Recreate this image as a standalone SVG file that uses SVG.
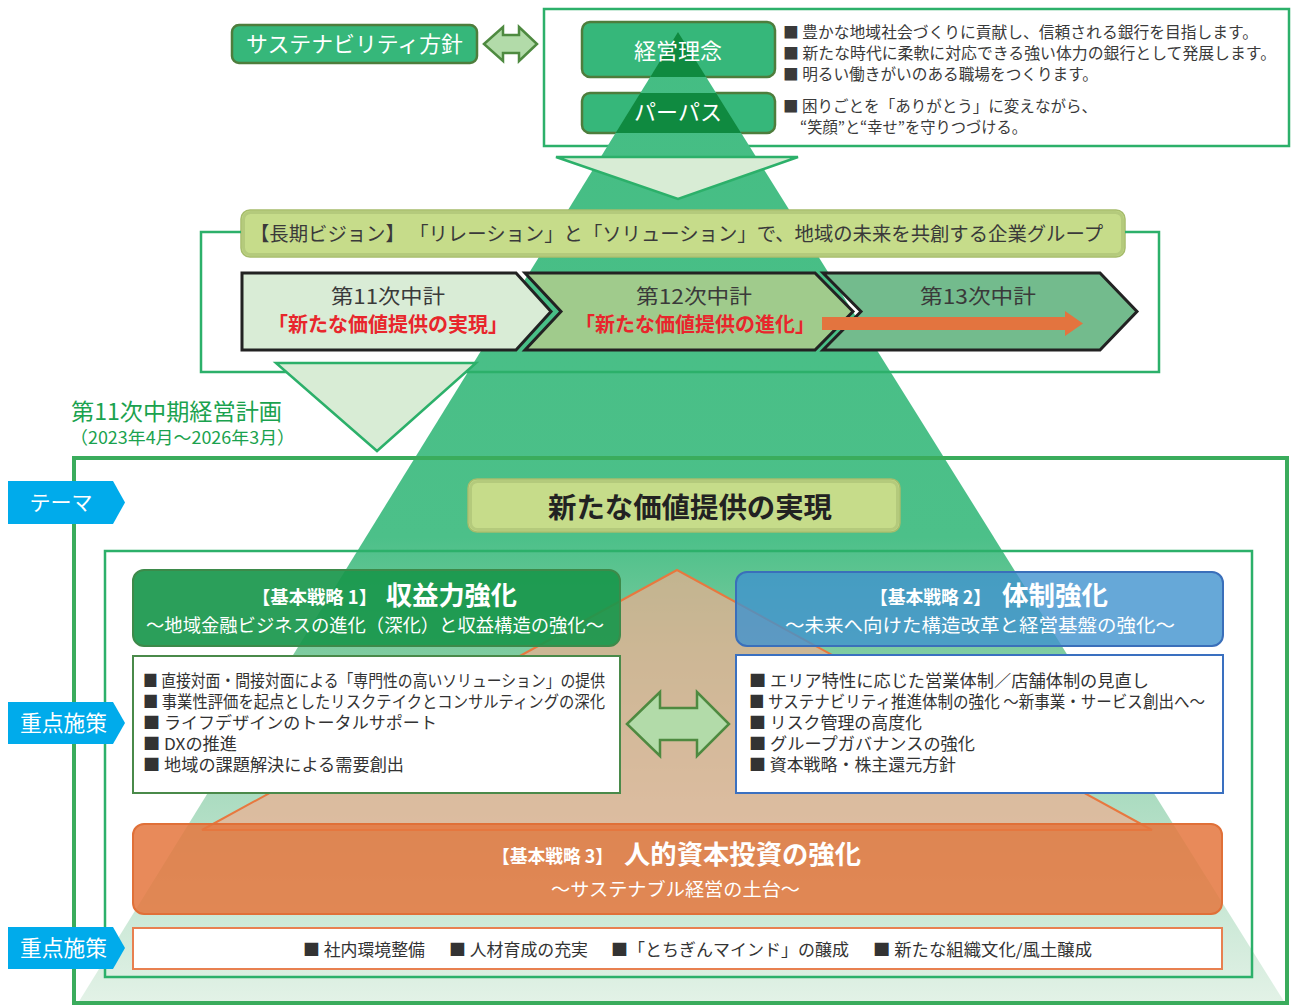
<svg xmlns="http://www.w3.org/2000/svg" width="1292" height="1006" viewBox="0 0 1292 1006">
<defs>
<style>
text{font-family:"Noto Sans CJK JP","Noto Sans",sans-serif;}
.t{fill:#3a3a3a;}
.w{fill:#ffffff;}
.b{font-weight:700;}
.gbox{fill:#36b77a;stroke:#4e7d3c;stroke-width:2.5;}
.frame{fill:none;stroke:#2cb06a;stroke-width:2.5;}
.down{fill:#d8ecd5;stroke:#2cb06a;stroke-width:2.5;}
.chev{stroke:#222222;stroke-width:3;}
.red{fill:#e8262c;font-weight:700;}
.dbl{fill:#b2dba9;stroke:#4e8a40;stroke-width:2.5;}
.tag{fill:#00abeb;}
.bar{fill:#c6dc8a;stroke:#a6bc6c;stroke-width:1.5;}
.barin{fill:none;stroke:#b4ca7c;stroke-width:3;}
.list{fill:#ffffff;stroke-width:2;}
.lt{font-size:16.5px;fill:#333333;}
</style>
<linearGradient id="pyr" gradientUnits="userSpaceOnUse" x1="0" y1="32" x2="0" y2="1003">
<stop offset="0" stop-color="#44bd83"/>
<stop offset="0.52" stop-color="#4cc089"/>
<stop offset="0.63" stop-color="#7ccb9f"/>
<stop offset="0.79" stop-color="#acdcc1"/>
<stop offset="1" stop-color="#e3f2e7"/>
</linearGradient>
<clipPath id="topboxes">
<rect x="582" y="22" width="193" height="55" rx="8"/>
<rect x="582" y="93" width="193" height="40" rx="8"/>
</clipPath>
</defs>

<rect x="0" y="0" width="1292" height="1006" fill="#ffffff"/>

<g id="philosophy-frame">
<rect x="544" y="9" width="745" height="137" fill="#ffffff" stroke="#2cb06a" stroke-width="2.5"/>
</g>

<g id="sustainability">
<rect class="gbox" x="232" y="25" width="245" height="38" rx="7"/>
<text class="w" x="246" y="51.5" font-size="21.5" textLength="217" lengthAdjust="spacingAndGlyphs">サステナビリティ方針</text>
</g>

<g id="keiei-box">
<rect class="gbox" x="582" y="22" width="193" height="55" rx="8"/>
</g>
<g id="purpose-box">
<rect class="gbox" x="582" y="93" width="193" height="40" rx="8"/>
</g>

<g id="pyramid">
<polygon points="678,32 1285,1003 78,1003" fill="url(#pyr)"/>
<polygon points="678,32 1285,1003 78,1003" fill="#0f8a40" clip-path="url(#topboxes)"/>
</g>

<g id="keiei-label">
<text class="w" x="678" y="58.5" font-size="22" text-anchor="middle">経営理念</text>
</g>
<g id="purpose-label">
<text class="w" x="678" y="120" font-size="22" text-anchor="middle">パーパス</text>
</g>

<g id="philosophy-text" class="t" font-size="15.5">
<text x="783" y="38" textLength="475" lengthAdjust="spacingAndGlyphs">■ 豊かな地域社会づくりに貢献し、信頼される銀行を目指します。</text>
<text x="783" y="59" textLength="493" lengthAdjust="spacingAndGlyphs">■ 新たな時代に柔軟に対応できる強い体力の銀行として発展します。</text>
<text x="783" y="80" textLength="315" lengthAdjust="spacingAndGlyphs">■ 明るい働きがいのある職場をつくります。</text>
<text x="783" y="112" textLength="314" lengthAdjust="spacingAndGlyphs">■ 困りごとを「ありがとう」に変えながら、</text>
<text x="800" y="133" textLength="227" lengthAdjust="spacingAndGlyphs">“笑顔”と“幸せ”を守りつづける。</text>
</g>

<g id="vision">
<rect class="bar" x="241" y="210" width="884" height="47" rx="9"/>
<rect class="barin" x="243.5" y="212.5" width="879" height="42" rx="7"/>
<text class="t" x="250" y="240.5" font-size="19.5" textLength="853" lengthAdjust="spacingAndGlyphs">【長期ビジョン】 「リレーション」と「ソリューション」で、地域の未来を共創する企業グループ</text>
</g>

<g id="plan11">
<polygon class="chev" fill="#d9ecd6" points="242,273 516,273 551,311.5 516,350 242,350"/>
<text class="t" x="388" y="304" font-size="20.5" text-anchor="middle" textLength="114" lengthAdjust="spacingAndGlyphs">第11次中計</text>
<text class="red" x="268" y="332" font-size="20.5" textLength="240" lengthAdjust="spacingAndGlyphs">「新たな価値提供の実現」</text>
</g>
<g id="plan12">
<polygon class="chev" fill="#a0cb8c" points="525,273 815,273 853,311.5 815,350 525,350 561,311.5"/>
<text class="t" x="694" y="304" font-size="20.5" text-anchor="middle" textLength="116" lengthAdjust="spacingAndGlyphs">第12次中計</text>
<text class="red" x="575" y="332" font-size="20.5" textLength="240" lengthAdjust="spacingAndGlyphs">「新たな価値提供の進化」</text>
</g>
<g id="plan13">
<polygon class="chev" fill="#73bb8d" points="823,273 1100,273 1137,311.5 1100,350 823,350 861,311.5"/>
<text class="t" x="978" y="304" font-size="20.5" text-anchor="middle" textLength="116" lengthAdjust="spacingAndGlyphs">第13次中計</text>
<polygon fill="#e3743f" points="822,317 1065,317 1065,311 1083,323.5 1065,336 1065,330 822,330"/>
</g>

<g id="plan-heading" fill="#1aa24e">
<text x="71" y="420" font-size="23" textLength="211" lengthAdjust="spacingAndGlyphs">第11次中期経営計画</text>
<text x="70" y="444" font-size="17.5" textLength="225" lengthAdjust="spacingAndGlyphs">（2023年4月～2026年3月）</text>
</g>

<g id="frames">
<rect x="74" y="458" width="1213" height="545" fill="none" stroke="#3aac5c" stroke-width="4"/>
<rect x="105" y="551" width="1147" height="426" fill="none" stroke="#2cb06a" stroke-width="2.5"/>
</g>

<g id="base-triangle">
<polygon points="677,570 1152,830 202,830" fill="#eeae90" fill-opacity="0.7" stroke="#e8783f" stroke-width="2"/>
</g>

<g id="theme">
<rect class="bar" x="468" y="479" width="432" height="53" rx="9"/>
<rect class="barin" x="470.5" y="481.5" width="427" height="48" rx="7"/>
<text x="690" y="517.5" font-size="28" class="b" fill="#222222" text-anchor="middle" textLength="284" lengthAdjust="spacingAndGlyphs">新たな価値提供の実現</text>
</g>

<g id="strategy1">
<rect x="133" y="570" width="487" height="76" rx="11" fill="#19974c" fill-opacity="0.92" stroke="#3d8a4a" stroke-width="2"/>
<text class="w b" x="252" y="604" font-size="18" textLength="125" lengthAdjust="spacingAndGlyphs">【基本戦略 1】</text>
<text class="w b" x="386" y="605" font-size="26" textLength="131" lengthAdjust="spacingAndGlyphs">収益力強化</text>
<text class="w" x="146" y="632" font-size="18.5" textLength="458" lengthAdjust="spacingAndGlyphs">～地域金融ビジネスの進化（深化）と収益構造の強化～</text>
</g>
<g id="strategy1-list">
<rect class="list" x="133" y="656" width="487" height="137" stroke="#4a8a4a"/>
<text class="lt" x="143" y="687" textLength="462" lengthAdjust="spacingAndGlyphs">■ 直接対面・間接対面による「専門性の高いソリューション」の提供</text>
<text class="lt" x="143" y="708" textLength="462" lengthAdjust="spacingAndGlyphs">■ 事業性評価を起点としたリスクテイクとコンサルティングの深化</text>
<text class="lt" x="143" y="729" textLength="294" lengthAdjust="spacingAndGlyphs">■ ライフデザインのトータルサポート</text>
<text class="lt" x="143" y="750" textLength="94" lengthAdjust="spacingAndGlyphs">■ DXの推進</text>
<text class="lt" x="143" y="771" textLength="261" lengthAdjust="spacingAndGlyphs">■ 地域の課題解決による需要創出</text>
</g>

<g id="strategy2">
<rect x="736" y="572" width="487" height="74" rx="11" fill="#4092ce" fill-opacity="0.8" stroke="#3a6fba" stroke-width="2"/>
<text class="w b" x="870" y="604" font-size="18" textLength="121" lengthAdjust="spacingAndGlyphs">【基本戦略 2】</text>
<text class="w b" x="1002" y="605" font-size="26" textLength="106" lengthAdjust="spacingAndGlyphs">体制強化</text>
<text class="w" x="785" y="632" font-size="18.5" textLength="390" lengthAdjust="spacingAndGlyphs">～未来へ向けた構造改革と経営基盤の強化～</text>
</g>
<g id="strategy2-list">
<rect class="list" x="736" y="655" width="487" height="138" stroke="#3a70c0"/>
<text class="lt" x="749" y="687" textLength="400" lengthAdjust="spacingAndGlyphs">■ エリア特性に応じた営業体制／店舗体制の見直し</text>
<text class="lt" x="749" y="708" textLength="456" lengthAdjust="spacingAndGlyphs">■ サステナビリティ推進体制の強化 ～新事業・サービス創出へ～</text>
<text class="lt" x="749" y="729" textLength="173" lengthAdjust="spacingAndGlyphs">■ リスク管理の高度化</text>
<text class="lt" x="749" y="750" textLength="226" lengthAdjust="spacingAndGlyphs">■ グループガバナンスの強化</text>
<text class="lt" x="749" y="771" textLength="207" lengthAdjust="spacingAndGlyphs">■ 資本戦略・株主還元方針</text>
</g>

<g id="strategy3">
<rect x="133" y="824" width="1089" height="90" rx="11" fill="#e4773f" fill-opacity="0.86" stroke="#e07038" stroke-width="2"/>
<text class="w b" x="492" y="863" font-size="18" textLength="121" lengthAdjust="spacingAndGlyphs">【基本戦略 3】</text>
<text class="w b" x="624" y="864" font-size="26" textLength="237" lengthAdjust="spacingAndGlyphs">人的資本投資の強化</text>
<text class="w" x="551" y="896" font-size="18.5" textLength="249" lengthAdjust="spacingAndGlyphs">～サステナブル経営の土台～</text>
</g>
<g id="strategy3-list">
<rect class="list" x="133" y="928" width="1089" height="41" stroke="#e88050"/>
<text class="lt" x="303" y="956" textLength="122" lengthAdjust="spacingAndGlyphs">■ 社内環境整備</text>
<text class="lt" x="449" y="956" textLength="139" lengthAdjust="spacingAndGlyphs">■ 人材育成の充実</text>
<text class="lt" x="611" y="956" textLength="238" lengthAdjust="spacingAndGlyphs">■「とちぎんマインド」の醸成</text>
<text class="lt" x="873" y="956" textLength="219" lengthAdjust="spacingAndGlyphs">■ 新たな組織文化/風土醸成</text>
</g>

<g id="connectors">
<polygon class="dbl" points="484,44 503,27 503,35 519,35 519,27 537,44 519,61 519,53 503,53 503,61"/>
<polygon class="down" points="556,157 798,157 678,199"/>
<path class="frame" stroke-width="3" d="M1125,232 H1159 V372 H201 V232 H241"/>
<polygon class="down" points="276,363 476,363 377,451"/>
<polygon class="dbl" points="627,724 660,692 660,708 697,708 697,692 729,724 697,756 697,740 660,740 660,756"/>
</g>

<g id="tag-theme">
<polygon class="tag" points="8,481 113,481 125,502.5 113,524 8,524"/>
<text class="w" x="61" y="510" font-size="21" text-anchor="middle">テーマ</text>
</g>
<g id="tag-measures1">
<polygon class="tag" points="8,702 113,702 125,723 113,744 8,744"/>
<text class="w" x="20" y="731" font-size="22" textLength="87" lengthAdjust="spacingAndGlyphs">重点施策</text>
</g>
<g id="tag-measures2">
<polygon class="tag" points="8,927 113,927 125,948 113,969 8,969"/>
<text class="w" x="20" y="956" font-size="22" textLength="87" lengthAdjust="spacingAndGlyphs">重点施策</text>
</g>
</svg>
